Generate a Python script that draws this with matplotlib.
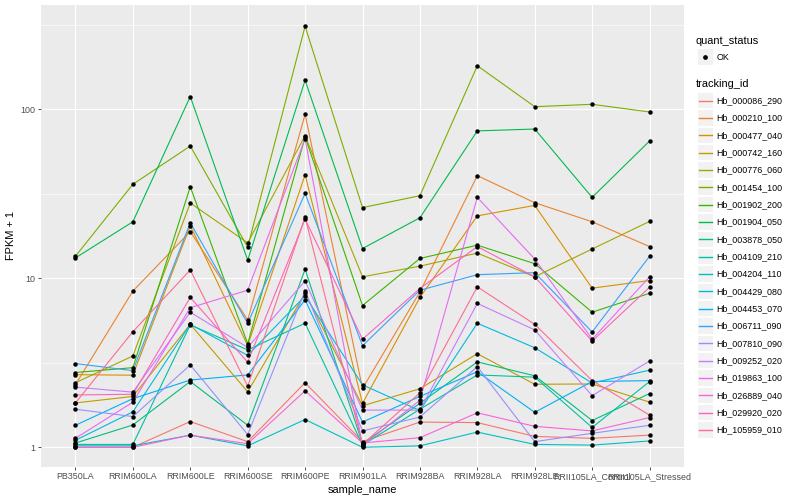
import matplotlib
matplotlib.use("Agg")
import matplotlib.pyplot as plt
from matplotlib.patches import Rectangle
from matplotlib.lines import Line2D
from matplotlib.ticker import FixedLocator, NullFormatter

plt.rcParams['font.family'] = ['Liberation Sans', 'DejaVu Sans']

samples = ["PB350LA", "RRIM600LA", "RRIM600LE", "RRIM600SE", "RRIM600PE", "RRIM901LA",
           "RRIM928BA", "RRIM928LA", "RRIM928LE", "RRII105LA_Control", "RRII105LA_Stressed"]

tracking_ids = ["Hb_000086_290", "Hb_000210_100", "Hb_000477_040", "Hb_000742_160",
                "Hb_000776_060", "Hb_001454_100", "Hb_001902_200", "Hb_001904_050",
                "Hb_003878_050", "Hb_004109_210", "Hb_004204_110", "Hb_004429_080",
                "Hb_004453_070", "Hb_006711_090", "Hb_007810_090", "Hb_009252_020",
                "Hb_019863_100", "Hb_026889_040", "Hb_029920_020", "Hb_105959_010"]

colors = ["#F8766D", "#EA8331", "#D89000", "#C09B00", "#A3A500", "#7CAE00", "#39B600",
          "#00BB4E", "#00BF7D", "#00C1A3", "#00BFC4", "#00BAE0", "#00B0F6", "#35A2FF",
          "#9590FF", "#C77CFF", "#E76BF3", "#FA62DB", "#FF62BC", "#FF6C91"]

# FPKM + 1 per tracking_id, in the order of samples
hb_000086_290 = [1.0, 1.0, 1.42, 1.08, 2.41, 1.08, 1.41, 1.4, 1.16, 1.13, 1.18]
hb_000210_100 = [2.35, 8.4, 18.9, 5.67, 93.4, 2.23, 8.3, 40.5, 28, 21.6, 15.4]
hb_000477_040 = [2.69, 2.67, 20.5, 4.0, 41, 1.82, 7.7, 23.4, 27, 8.74, 9.7]
hb_000742_160 = [1.83, 2.0, 5.34, 2.13, 8.15, 1.76, 2.22, 3.58, 2.36, 2.37, 1.85]
hb_000776_060 = [2.41, 3.47, 27.9, 16.2, 69.8, 10.2, 11.8, 14.1, 10.2, 14.9, 21.7]
hb_001454_100 = [13.5, 36, 60.6, 15.3, 310, 26.2, 30.8, 181, 103.6, 107, 96.4]
hb_001902_200 = [2.77, 2.96, 34.8, 4.1, 68.6, 6.9, 13.1, 15.7, 12.2, 6.3, 8.15]
hb_001904_050 = [13.2, 21.6, 119, 12.8, 148.5, 15, 22.8, 74.5, 76.4, 30.1, 64.9]
hb_003878_050 = [1.06, 1.355, 2.45, 1.35, 11.3, 1.05, 1.82, 3.2, 2.65, 1.44, 2.08]
hb_004109_210 = [1.04, 1.04, 5.3, 3.77, 5.42, 1.03, 1.68, 2.68, 2.6, 1.31, 2.45]
hb_004204_110 = [1.02, 1.02, 1.18, 1.02, 1.46, 1.0, 1.02, 1.23, 1.04, 1.03, 1.09]
hb_004429_080 = [1.10, 1.62, 5.34, 3.5, 7.86, 2.34, 1.65, 5.42, 3.88, 2.4, 2.86]
hb_004453_070 = [1.35, 1.94, 2.5, 2.68, 7.45, 1.41, 2.0, 2.8, 1.61, 2.45, 2.48]
hb_006711_090 = [3.13, 2.84, 21.3, 5.41, 31.8, 3.99, 8.5, 10.5, 10.8, 4.81, 13.5]
hb_007810_090 = [1.68, 1.52, 3.07, 1.19, 8.43, 1.25, 1.51, 3.0, 1.08, 1.21, 1.35]
hb_009252_020 = [2.27, 2.12, 6.3, 3.9, 9.65, 1.66, 1.66, 7.1, 4.95, 2.02, 3.24]
hb_019863_100 = [1.13, 1.85, 6.7, 8.5, 67, 1.02, 1.9, 30.1, 13, 4.36, 10.2]
hb_026889_040 = [1.0, 1.0, 1.18, 1.05, 2.16, 1.06, 1.14, 1.6, 1.33, 1.25, 1.5]
hb_029920_020 = [2.04, 2.06, 7.7, 3.19, 22.4, 4.36, 8.7, 15.4, 10.2, 4.25, 8.85]
hb_105959_010 = [1.83, 4.83, 11.2, 2.3, 23, 1.04, 2.1, 8.9, 5.34, 2.48, 1.55]

series = [hb_000086_290, hb_000210_100, hb_000477_040, hb_000742_160, hb_000776_060,
          hb_001454_100, hb_001902_200, hb_001904_050, hb_003878_050, hb_004109_210,
          hb_004204_110, hb_004429_080, hb_004453_070, hb_006711_090, hb_007810_090,
          hb_009252_020, hb_019863_100, hb_026889_040, hb_029920_020, hb_105959_010]

W, H = 800, 500
fig = plt.figure(figsize=(8, 5), dpi=100)
fig.patch.set_facecolor('white')

L, R, T, B = 41, 684, 5, 467
ax = fig.add_axes([L / W, 1 - B / H, (R - L) / W, (B - T) / H])
ax.set_facecolor('#EBEBEB')
ax.set_yscale('log')
x = list(range(len(samples)))
ax.set_xlim(-0.6, len(samples) - 1 + 0.6)
ax.set_ylim(10 ** -0.1166, 10 ** 2.617)

ax.yaxis.set_major_locator(FixedLocator([1, 10, 100]))
ax.yaxis.set_minor_locator(FixedLocator([10 ** 0.5, 10 ** 1.5, 10 ** 2.5]))
ax.yaxis.set_minor_formatter(NullFormatter())
ax.set_yticklabels(["1", "10", "100"])
ax.set_xticks(x)
ax.set_xticklabels(samples)

ax.grid(which='major', color='white', linewidth=0.85)
ax.grid(which='minor', axis='y', color='white', linewidth=0.45)
ax.set_axisbelow(True)
for s in ax.spines.values():
    s.set_visible(False)
ax.tick_params(which='major', length=2.0, width=0.6, color='#333333',
               labelsize=6.4, labelcolor='#4D4D4D', pad=1.8)
ax.tick_params(which='minor', length=0)

for vals, c in zip(series, colors):
    ax.plot(x, vals, color=c, linewidth=0.8, zorder=2)
for vals in series:
    ax.plot(x, vals, linestyle='none', marker='o', markersize=2.2,
            color='black', zorder=3)

ax.set_xlabel("sample_name", fontsize=7.9, labelpad=2.5)
ax.set_ylabel("FPKM + 1", fontsize=7.9, labelpad=3.5)

# legends (figure pixel coordinates)
def fx(px):
    return px / W

def fy(py):
    return 1 - py / H

fig.text(fx(696), fy(40.5), "quant_status", fontsize=7.9, va='center', ha='left')
fig.patches.append(Rectangle((fx(697.5), fy(65)), 15.5 / W, 15.5 / H,
                             transform=fig.transFigure, facecolor='#F2F2F2',
                             edgecolor='none'))
fig.lines.append(Line2D([fx(705.2)], [fy(57.2)], transform=fig.transFigure,
                        marker='o', markersize=2.4, color='black', linestyle='none'))
fig.text(fx(716.7), fy(57.2), "OK", fontsize=6.4, va='center', ha='left')

fig.text(fx(696), fy(84.3), "tracking_id", fontsize=7.9, va='center', ha='left')
for i, (tid, c) in enumerate(zip(tracking_ids, colors)):
    cy = 100.7 + i * 17.33
    fig.patches.append(Rectangle((fx(697.5), fy(cy + 7.75)), 15.5 / W, 15.5 / H,
                                 transform=fig.transFigure, facecolor='#F2F2F2',
                                 edgecolor='none'))
    fig.lines.append(Line2D([fx(698.5), fx(712)], [fy(cy), fy(cy)],
                            transform=fig.transFigure, color=c, linewidth=1.0))
    fig.text(fx(716.7), fy(cy), tid, fontsize=6.4, va='center', ha='left')

fig.savefig("out.png", dpi=100)
